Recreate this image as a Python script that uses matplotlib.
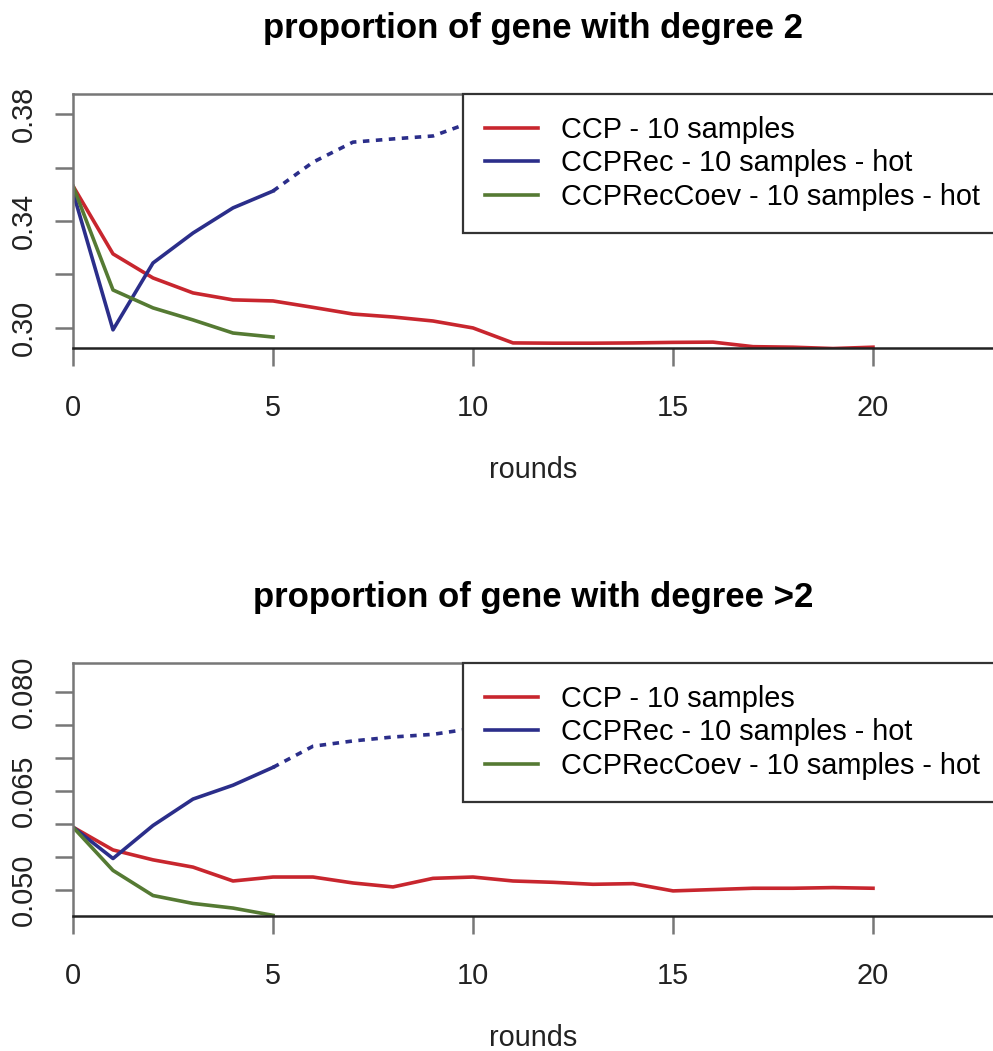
import numpy as np
import matplotlib
matplotlib.use('Agg')
import matplotlib.pyplot as plt

plt.rcParams['font.family'] = ['Liberation Sans', 'DejaVu Sans']

# rounds
rounds_ccp = np.arange(0, 21)
rounds_rec = np.arange(0, 6)
rounds_rec_dot = np.arange(5, 11)
rounds_coev = np.arange(0, 6)

# proportion of gene with degree 2
deg2_ccp = [0.3531, 0.3277, 0.3187, 0.3131, 0.3105, 0.3101, 0.3077, 0.3052, 0.3041,
            0.3026, 0.3000, 0.2944, 0.2943, 0.2943, 0.2944, 0.2946, 0.2947, 0.2930,
            0.2928, 0.2923, 0.2928]
deg2_rec = [0.3508, 0.2993, 0.3243, 0.3355, 0.3449, 0.3512]
deg2_rec_dot = [0.3512, 0.3620, 0.3695, 0.3707, 0.3718, 0.3772]
deg2_coev = [0.3531, 0.3142, 0.3075, 0.3030, 0.2981, 0.2966]

# proportion of gene with degree >2
deg3_ccp = [0.05955, 0.0561, 0.0546, 0.0535, 0.0514, 0.0520, 0.0520, 0.0511, 0.0505,
            0.0518, 0.0520, 0.0514, 0.0512, 0.0509, 0.0510, 0.0499, 0.0501, 0.0503,
            0.0503, 0.0504, 0.0503]
deg3_rec = [0.05955, 0.0548, 0.0598, 0.0638, 0.0659, 0.0686]
deg3_rec_dot = [0.0686, 0.0718, 0.0726, 0.0732, 0.0736, 0.0745]
deg3_coev = [0.05955, 0.0530, 0.0492, 0.0480, 0.0473, 0.0462]

labels = ['CCP - 10 samples', 'CCPRec - 10 samples - hot', 'CCPRecCoev - 10 samples - hot']
red, blue, green = '#c8262e', '#2b2e8a', '#557a33'

W, H = 993, 1051
fig = plt.figure(figsize=(W / 100, H / 100), dpi=100)


def panel(top, bottom, title, ccp, rec, rec_dot, coev, ylim, yticks, ylabels):
    ax = fig.add_axes([73 / W, 1 - bottom / H, 920 / W, (bottom - top) / H])
    lw = 2.6
    ax.plot(rounds_ccp, ccp, color=red, lw=lw, label=labels[0])
    ax.plot(rounds_rec, rec, color=blue, lw=lw, label=labels[1])
    ax.plot(rounds_coev, coev, color=green, lw=lw, label=labels[2])
    ax.plot(rounds_rec_dot, rec_dot, color=blue, lw=lw, dashes=(1.8, 1.8))
    ax.set_xlim(0, 23)
    ax.set_ylim(*ylim)
    ax.set_xticks([0, 5, 10, 15, 20])
    ax.set_yticks(yticks)
    ax.set_yticklabels(ylabels, rotation=90, va='center')
    for s in ['top', 'left']:
        ax.spines[s].set_color('#777777')
        ax.spines[s].set_linewidth(1.8)
    ax.spines['right'].set_visible(False)
    ax.spines['bottom'].set_color('#222222')
    ax.spines['bottom'].set_linewidth(1.8)
    ax.tick_params(length=13, width=1.8, color='#777777', labelsize=20.8,
                   labelcolor='#222222')
    ax.tick_params(axis='x', pad=20)
    ax.tick_params(axis='y', pad=12)
    ax.set_title(title, fontsize=25, fontweight='bold', pad=40)
    ax.set_xlabel('rounds', fontsize=20.8, color='#222222')
    ax.xaxis.label.set_va('center')
    ax.xaxis.set_label_coords(0.5, -122 / (bottom - top))
    leg = ax.legend(loc='upper left', bbox_to_anchor=(463 / W, 1 - top / H),
                    bbox_transform=fig.transFigure, fontsize=20.8, frameon=True,
                    fancybox=False, framealpha=1, edgecolor='#333333',
                    borderpad=0.75, labelspacing=0.2, handlelength=1.85,
                    handletextpad=0.8, borderaxespad=0)
    leg.get_frame().set_linewidth(1.6)
    for line in leg.get_lines():
        line.set_linewidth(2.6)
    return ax


panel(94, 348, 'proportion of gene with degree 2', deg2_ccp, deg2_rec, deg2_rec_dot,
      deg2_coev, (0.2925, 0.3875), [0.30, 0.32, 0.34, 0.36, 0.38],
      ['0.30', '', '0.34', '', '0.38'])
panel(663, 916, 'proportion of gene with degree >2', deg3_ccp, deg3_rec, deg3_rec_dot,
      deg3_coev, (0.0461, 0.0844), [0.050, 0.055, 0.060, 0.065, 0.070, 0.075, 0.080],
      ['0.050', '', '', '0.065', '', '', '0.080'])

fig.savefig('out.png', dpi=100)
